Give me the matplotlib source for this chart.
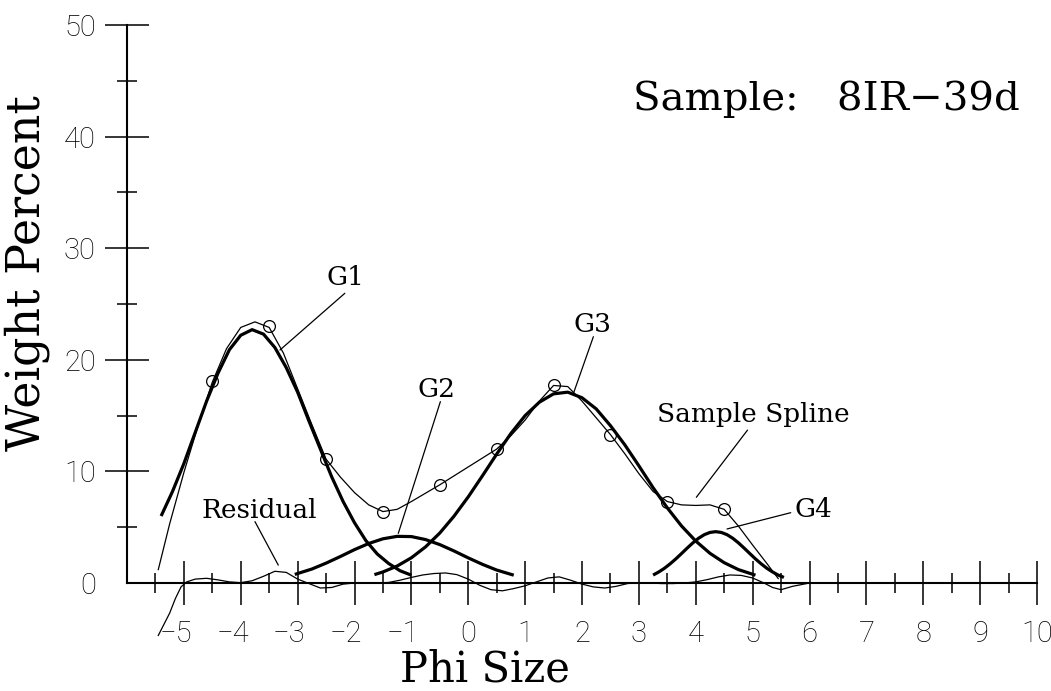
import matplotlib
matplotlib.use("Agg")
import matplotlib.pyplot as plt
import matplotlib.transforms as mtransforms
import numpy as np

# ---------------- data ----------------
sample_x = [-4.5, -3.5, -2.5, -1.5, -0.5, 0.5, 1.5, 2.5, 3.5, 4.5]
sample_y = [18.1, 23.0, 11.1, 6.4, 8.8, 12.0, 17.7, 13.3, 7.3, 6.6]

spline_x = [-5.45, -5.25, -5.0, -4.75, -4.5, -4.25, -4.0, -3.75, -3.5, -3.25, -3.0,
            -2.75, -2.5, -2.25, -2.0, -1.75, -1.5, -1.25, -1.0, -0.75, -0.5, -0.25,
            0.0, 0.25, 0.5, 0.75, 1.0, 1.25, 1.5, 1.75, 2.0, 2.25, 2.5, 2.75, 3.0,
            3.25, 3.5, 3.75, 4.0, 4.25, 4.5, 4.75, 5.0, 5.25, 5.45]
spline_y = [1.2, 5.3, 9.9, 14.1, 18.0, 21.0, 22.9, 23.4, 22.9, 20.6, 17.4,
            14.2, 11.1, 9.5, 8.1, 7.0, 6.4, 6.6, 7.3, 8.05, 8.8, 9.6,
            10.4, 11.2, 12.0, 13.2, 14.6, 16.3, 17.7, 17.6, 16.3, 14.8, 13.3, 11.6, 9.8,
            8.2, 7.3, 7.0, 6.95, 7.0, 6.6, 5.1, 3.4, 1.75, 0.4]

g1_x = [-5.4, -5.2, -5.0, -4.8, -4.6, -4.4, -4.2, -4.0, -3.8, -3.6, -3.4, -3.2,
        -3.0, -2.8, -2.6, -2.4, -2.2, -2.0, -1.8, -1.6, -1.4, -1.2, -1.0]
g1_y = [6.0, 8.2, 10.7, 13.5, 16.3, 18.8, 20.9, 22.2, 22.7, 22.3, 21.1, 19.3,
        17.1, 14.5, 12.0, 9.5, 7.3, 5.4, 3.8, 2.6, 1.75, 1.1, 0.7]

g2_x = [-3.05, -2.75, -2.5, -2.25, -2.0, -1.75, -1.5, -1.25, -1.0, -0.75, -0.5,
        -0.25, 0.0, 0.25, 0.5, 0.8]
g2_y = [0.77, 1.25, 1.78, 2.37, 2.99, 3.54, 3.96, 4.18, 4.16, 3.89, 3.44,
        2.87, 2.25, 1.67, 1.16, 0.70]

g3_x = [-1.65, -1.5, -1.25, -1.0, -0.75, -0.5, -0.25, 0.0, 0.25, 0.5, 0.75, 1.0,
        1.25, 1.5, 1.75, 2.0, 2.25, 2.5, 2.75, 3.0, 3.25, 3.5, 3.75, 4.0, 4.25,
        4.5, 4.75, 5.05]
g3_y = [0.75, 0.99, 1.52, 2.26, 3.24, 4.48, 5.99, 7.72, 9.61, 11.55, 13.4, 15.0,
        16.2, 16.95, 17.1, 16.6, 15.6, 14.1, 12.4, 10.5, 8.54, 6.73, 5.11, 3.76, 2.66,
        1.82, 1.20, 0.70]

g4_x = [3.25, 3.35, 3.45, 3.55, 3.65, 3.75, 3.85, 3.95, 4.05, 4.15, 4.25, 4.35,
        4.45, 4.55, 4.65, 4.75, 4.85, 4.95, 5.05, 5.15, 5.25, 5.35, 5.45, 5.55]
g4_y = [0.71, 0.99, 1.32, 1.72, 2.16, 2.64, 3.13, 3.60, 4.01, 4.33, 4.53, 4.60,
        4.53, 4.33, 4.01, 3.60, 3.13, 2.64, 2.16, 1.72, 1.32, 0.99, 0.71, 0.50]

resid_x = [-5.45, -5.35, -5.25, -5.15, -5.05, -4.95, -4.8, -4.6, -4.4, -4.2, -4.0,
           -3.8, -3.6, -3.4, -3.2, -3.0, -2.8, -2.6, -2.4, -2.2, -2.0, -1.8, -1.6,
           -1.4, -1.2, -1.0, -0.8, -0.6, -0.4, -0.2, 0.0, 0.2, 0.4, 0.6, 0.8, 1.0,
           1.2, 1.4, 1.6, 1.8, 2.0, 2.2, 2.4, 2.6, 2.8, 3.0, 3.2, 3.4, 3.6, 3.8,
           4.0, 4.2, 4.4, 4.6, 4.8, 5.0, 5.2, 5.35, 5.5, 5.7, 5.95]
resid_y = [-4.7, -3.7, -2.7, -1.4, -0.35, 0.1, 0.35, 0.42, 0.28, 0.1, 0.03,
           0.2, 0.6, 1.05, 0.95, 0.35, -0.05, -0.45, -0.4, -0.1, 0.0, 0.0, 0.0,
           0.05, 0.25, 0.5, 0.72, 0.85, 0.9, 0.75, 0.35, -0.2, -0.6, -0.7, -0.5, -0.25,
           0.1, 0.45, 0.55, 0.25, -0.1, -0.35, -0.45, -0.3, -0.05, 0.03, 0.0, -0.05, -0.05, 0.0,
           0.1, 0.3, 0.55, 0.72, 0.68, 0.45, 0.0, -0.4, -0.6, -0.3, -0.05]

x_ticks = list(range(-5, 11))
x_minor = [v + 0.5 for v in range(-6, 10)]
y_ticks = [0, 10, 20, 30, 40, 50]
y_minor = [5, 15, 25, 35, 45]

title_text = "Sample:   8IR\u221239d"
xlabel_text = "Phi Size"
ylabel_text = "Weight Percent"

# labels: (text, text x, text baseline y, leader start, leader end)
labels = [
    ("G1", -2.49, 26.7, (-2.17, 25.96), (-3.31, 20.88)),
    ("G2", -0.90, 16.69, (-0.49, 16.25), (-1.23, 4.45)),
    ("G3", 1.85, 22.52, (2.20, 22.07), (1.85, 17.0)),
    ("G4", 5.73, 5.94, (5.67, 6.30), (4.55, 4.84)),
    ("Residual", -4.69, 5.80, (-3.75, 5.5), (-3.34, 1.6)),
    ("Sample Spline", 3.32, 14.45, (4.91, 13.7), (4.01, 7.68)),
]

# ---------------- figure ----------------
W, H = 1051, 691
fig = plt.figure(figsize=(W / 100, H / 100), dpi=100)
fig.patch.set_facecolor("white")
ax = fig.add_axes([127 / W, (H - 583) / H, (1037 - 127) / W, (583 - 25) / H])
ax.set_xlim(-6, 10)
ax.set_ylim(0, 50)

serif = ["DejaVu Serif"]
sans = ["Roboto", "DejaVu Sans"]

thick = dict(color="black", lw=2.3, clip_on=False, solid_capstyle="butt")
thin = dict(color="black", lw=0.9, clip_on=False)

ax.plot(g1_x, g1_y, **thick)
ax.plot(g2_x, g2_y, **thick)
ax.plot(g3_x, g3_y, **thick)
ax.plot(g4_x, g4_y, **thick)
ax.plot(spline_x, spline_y, **thin)
ax.plot(resid_x, resid_y, **thin)
ax.plot(sample_x, sample_y, linestyle="none", marker="o", ms=8.5, mfc="none",
        mec="black", mew=0.9, clip_on=False)

for txt, tx, ty, p0, p1 in labels:
    ax.text(tx, ty, txt, family=serif, fontsize=19, ha="left", va="baseline")
    ax.annotate("", xy=p1, xytext=p0,
                arrowprops=dict(arrowstyle="-", color="black", lw=0.9,
                                shrinkA=0, shrinkB=0))

# axes styling
for s in ("top", "right"):
    ax.spines[s].set_visible(False)
for s in ("left", "bottom"):
    ax.spines[s].set_linewidth(1.5)

ax.set_xticks(x_ticks)
ax.set_xticks(x_minor, minor=True)
ax.set_yticks(y_ticks)
ax.set_yticks(y_minor, minor=True)
ax.set_xticklabels([f"\u2212{abs(v)}" if v < 0 else str(v) for v in x_ticks])
ax.set_yticklabels([str(v) for v in y_ticks])

ax.tick_params(axis="both", which="major", direction="inout", length=31, width=1.1,
               labelsize=21)
ax.tick_params(axis="both", which="minor", direction="inout", length=15, width=1.1)
ax.tick_params(axis="x", which="major", pad=11)
ax.tick_params(axis="y", which="major", pad=7)

for lab in ax.get_xticklabels() + ax.get_yticklabels():
    lab.set_family(sans)
    lab.set_fontweight("light")

ax.yaxis.get_major_ticks()[0].tick1line.set_visible(False)

# center the digit of negative labels on the tick
for lab, v in zip(ax.get_xticklabels(), x_ticks):
    if v < 0:
        lab.set_horizontalalignment("right")
        lab.set_transform(lab.get_transform() +
                          mtransforms.ScaledTranslation(5.8 / 72, 0, fig.dpi_scale_trans))

fig.text(633 / W, (H - 110) / H, title_text, family=serif, fontsize=29,
         ha="left", va="baseline")
fig.text(484.5 / W, (H - 681) / H, xlabel_text, family=serif, fontsize=30,
         ha="center", va="baseline")
fig.text(40 / W, (H - 273) / H, ylabel_text, family=serif, fontsize=33,
         ha="center", va="baseline", rotation=90, rotation_mode="anchor")

fig.savefig("out.png", dpi=100, facecolor="white")
